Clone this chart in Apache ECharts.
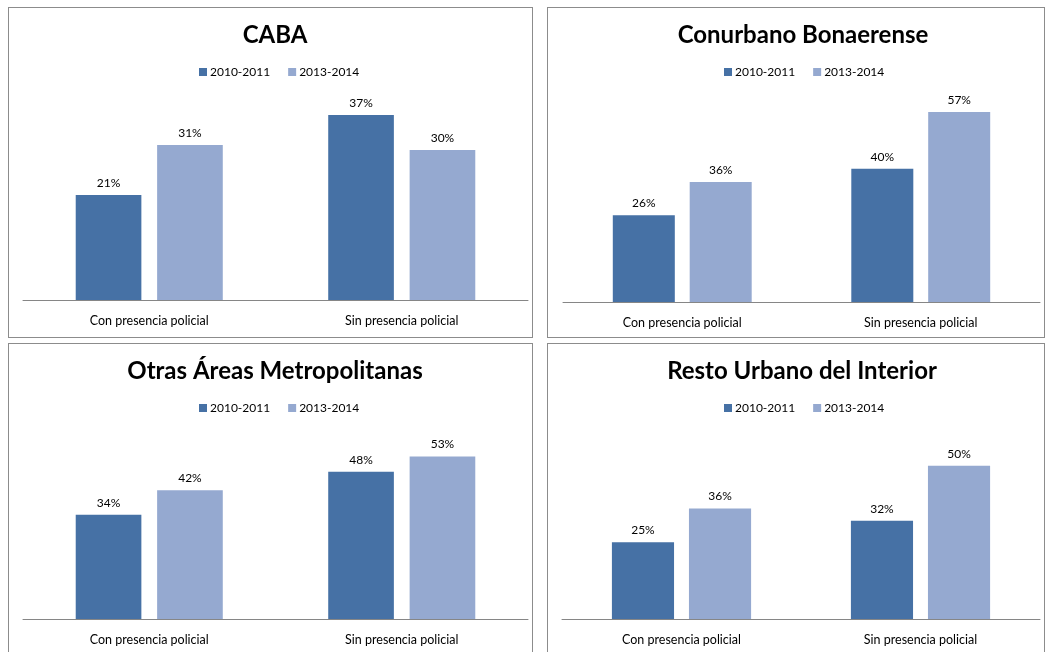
<html>
<head>
    <meta charset="utf-8">
    <title>Presencia policial</title>
    <script src="https://cdn.jsdelivr.net/npm/echarts@6/dist/echarts.min.js"></script>
    <style>
        body { margin: 0; background: #fff; overflow: hidden; width: 1046px; height: 652px; position: relative; }
        .panel { position: absolute; border: 1px solid #8c8c8c; box-sizing: border-box; background: #fff; }
    </style>
</head>
<body>
    <div class="panel" id="p1" style="left:8px; top:7px; width:525px; height:331px;"></div>
    <div class="panel" id="p2" style="left:547px; top:7px; width:498px; height:331px;"></div>
    <div class="panel" id="p3" style="left:8px; top:343px; width:525px; height:320px;"></div>
    <div class="panel" id="p4" style="left:547px; top:343px; width:498px; height:320px;"></div>

    <script type="text/javascript">
        // datos
        var categorias = ['Con presencia policial', 'Sin presencia policial'];
        var periodos = ['2010-2011', '2013-2014'];
        var titulos = ['CABA', 'Conurbano Bonaerense', 'Otras Áreas Metropolitanas', 'Resto Urbano del Interior'];
        var caba2010 = [21, 37], caba2013 = [31, 30];
        var conurbano2010 = [26, 40], conurbano2013 = [36, 57];
        var otras2010 = [34, 48], otras2013 = [42, 53];
        var resto2010 = [25, 32], resto2013 = [36, 50];
        var ejeMax = [40, 60, 60, 60];

        var colores = ['#4671a5', '#95a9d0'];
        var fuente = 'Lato, "Open Sans", sans-serif';

        // posicion del area de barras en cada panel
        var grillas = [
            { left: 14, right: 4, top: 92, height: 200 },
            { left: 15, right: 4, top: 94, height: 200 },
            { left: 14, right: 4, top: 91, height: 184 },
            { left: 14, right: 4, top: 91, height: 184 }
        ];
        // centro del titulo y comienzo de la leyenda
        var tituloX = [261, 250, 261, 249];
        var leyendaX = [185, 171, 185, 171];

        var series = [
            [caba2010, caba2013],
            [conurbano2010, conurbano2013],
            [otras2010, otras2013],
            [resto2010, resto2013]
        ];

        function dibujar(id, i) {
            var chart = echarts.init(document.getElementById(id));
            chart.setOption({
                animation: false,
                textStyle: { fontFamily: fuente },
                title: {
                    text: titulos[i],
                    left: tituloX[i],
                    textAlign: 'center',
                    top: 10,
                    textStyle: { fontFamily: fuente, fontSize: 24, fontWeight: 'bold', color: '#000' }
                },
                legend: {
                    data: periodos,
                    left: leyendaX[i],
                    top: 53,
                    itemWidth: 8,
                    itemHeight: 8,
                    itemGap: 18,
                    icon: 'rect',
                    textStyle: { fontFamily: fuente, fontSize: 12, color: '#000', padding: [0, 0, 0, -2] }
                },
                grid: grillas[i],
                xAxis: {
                    type: 'category',
                    data: categorias,
                    axisLine: { lineStyle: { color: '#868686', width: 1 } },
                    axisTick: { show: false },
                    axisLabel: { fontFamily: fuente, fontSize: 12.5, color: '#000', margin: 14 }
                },
                yAxis: {
                    type: 'value',
                    min: 0,
                    max: ejeMax[i],
                    show: false,
                    splitLine: { show: false }
                },
                series: periodos.map(function (p, k) {
                    return {
                        name: p,
                        type: 'bar',
                        data: series[i][k],
                        barWidth: '26%',
                        barGap: '24%',
                        itemStyle: { color: colores[k] },
                        label: {
                            show: true,
                            position: 'top',
                            distance: 6,
                            formatter: '{c}%',
                            fontFamily: fuente,
                            fontSize: 12,
                            color: '#000'
                        }
                    };
                })
            });
        }

        dibujar('p1', 0);
        dibujar('p2', 1);
        dibujar('p3', 2);
        dibujar('p4', 3);
    </script>
</body>
</html>
